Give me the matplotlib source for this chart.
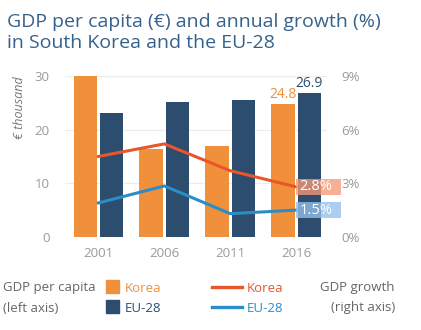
import matplotlib
matplotlib.use("Agg")
import matplotlib.pyplot as plt
import numpy as np

# data
years = ['2001', '2006', '2011', '2016']
gdp_korea = [30.0, 16.3, 16.9, 24.8]
gdp_eu = [23.1, 25.2, 25.5, 26.9]
growth_korea = [4.5, 5.2, 3.7, 2.8]
growth_eu = [1.9, 2.85, 1.3, 1.5]
left_ticks = [0, 10, 20, 30]
right_ticks = [0, 3, 6, 9]

c_orange = '#f0903a'
c_navy = '#2d4d6f'
c_red = '#e8562a'
c_blue = '#2a8dc8'
c_grey = '#9a9a9a'
c_title = '#35628c'
c_text = '#666666'

plt.rcParams['font.family'] = ['Open Sans', 'DejaVu Sans']

fig = plt.figure(figsize=(4.21, 3.30), dpi=100)
ax = fig.add_axes([0.154, 0.282, 0.623, 0.488])

x = np.arange(len(years))
w = 0.355
ax.bar(x - 0.2, gdp_korea, w, color=c_orange, zorder=2)
ax.bar(x + 0.2, gdp_eu, w, color=c_navy, zorder=2)

ax.set_ylim(0, 30)
ax.set_xlim(-0.51, 3.47)
ax.set_yticks(left_ticks)
ax.set_xticks(x)
ax.set_xticklabels(years)
ax.tick_params(length=0, colors=c_grey, labelsize=9.5, pad=7)
ax.tick_params(axis='y', pad=11)
ax.grid(axis='y', color='#ececec', linewidth=0.8, zorder=0)
for s in ax.spines.values():
    s.set_visible(False)
ax.text(-0.172, 1.0, '€ thousand', transform=ax.transAxes, rotation=90, color='#777777',
        style='italic', fontsize=9, ha='center', va='top')

ax.text(x[3] - 0.2, gdp_korea[3] + 0.3, '24.8', color=c_orange, ha='center', va='bottom', fontsize=10)
ax.text(x[3] + 0.2, gdp_eu[3] + 0.3, '26.9', color=c_navy, ha='center', va='bottom', fontsize=10)

ax2 = ax.twinx()
ax2.set_ylim(0, 9)
ax2.set_yticks(right_ticks)
ax2.set_yticklabels([f'{t}%' for t in right_ticks])
ax2.tick_params(length=0, colors=c_grey, labelsize=9.5, pad=10)
for s in ax2.spines.values():
    s.set_visible(False)
ax2.plot(x, growth_korea, color=c_red, linewidth=2.2, zorder=3)
ax2.plot(x, growth_eu, color=c_blue, linewidth=2.2, zorder=3)

# end-value boxes
for val, fc in [(growth_korea[3], '#f79a76'), (growth_eu[3], '#94c0ec')]:
    ax2.add_patch(plt.Rectangle((x[3], val - 0.45), 0.68, 0.9, facecolor=fc, edgecolor='none',
                                alpha=0.78, zorder=4, clip_on=False))
    ax2.text(x[3] + 0.05, val, f'{val}%', color='white', fontsize=10.5,
             ha='left', va='center', zorder=5)

# title
fig.text(0.017, 0.96, 'GDP per capita (€) and annual growth (%)\nin South Korea and the EU-28',
         color=c_title, fontsize=14, ha='left', va='top', linespacing=1.2)

# legend
fs = 9.5
fig.text(3 / 421, 1 - 288 / 330, 'GDP per capita', color=c_text, fontsize=fs, va='center')
fig.text(3 / 421, 1 - 308 / 330, '(left axis)', color=c_text, fontsize=fs, va='center')
fig.patches.append(plt.Rectangle((106 / 421, 1 - 293 / 330), 13 / 421, 13 / 330,
                                 transform=fig.transFigure, color=c_orange))
fig.patches.append(plt.Rectangle((106 / 421, 1 - 313 / 330), 13 / 421, 13 / 330,
                                 transform=fig.transFigure, color=c_navy))
fig.text(125 / 421, 1 - 288 / 330, 'Korea', color=c_orange, fontsize=fs, va='center')
fig.text(125 / 421, 1 - 308 / 330, 'EU-28', color=c_navy, fontsize=fs, va='center')
fig.lines.append(plt.Line2D([212 / 421, 242 / 421], [1 - 287 / 330] * 2,
                            transform=fig.transFigure, color=c_red, linewidth=2.4))
fig.lines.append(plt.Line2D([212 / 421, 242 / 421], [1 - 307 / 330] * 2,
                            transform=fig.transFigure, color=c_blue, linewidth=2.4))
fig.text(247 / 421, 1 - 288 / 330, 'Korea', color=c_red, fontsize=fs, va='center')
fig.text(247 / 421, 1 - 308 / 330, 'EU-28', color=c_blue, fontsize=fs, va='center')
fig.text(395 / 421, 1 - 288 / 330, 'GDP growth', color=c_text, fontsize=fs, ha='right', va='center')
fig.text(395 / 421, 1 - 308 / 330, '(right axis)', color=c_text, fontsize=fs, ha='right', va='center')

fig.savefig('out.png', dpi=100)
